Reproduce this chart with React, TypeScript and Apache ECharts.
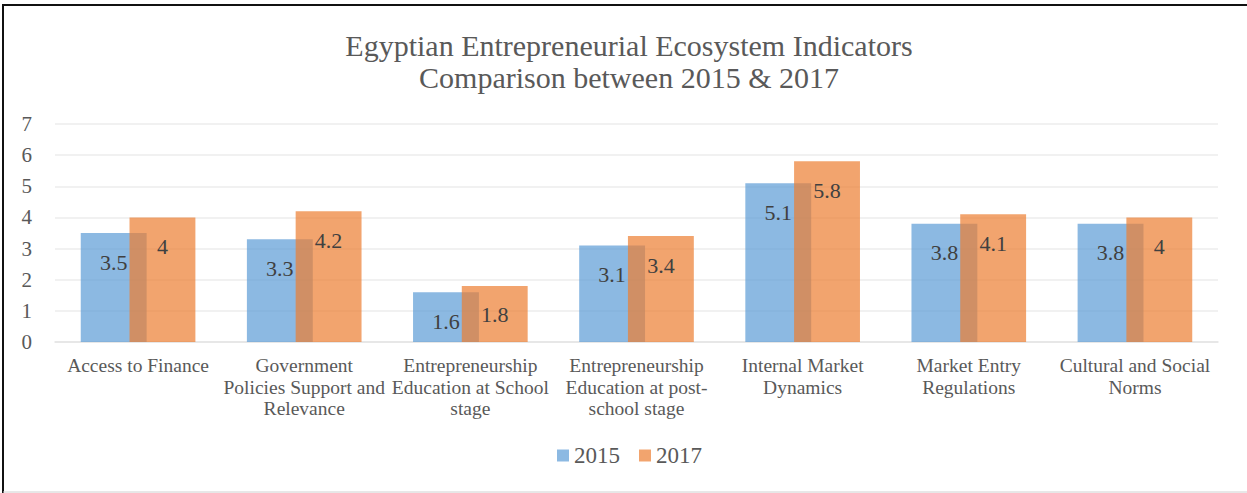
import React, { useEffect, useRef } from "react";
import * as echarts from "echarts";

const titleLines = ["Egyptian Entrepreneurial Ecosystem Indicators", "Comparison between 2015 & 2017"];
const categories = [
  "Access to Finance",
  "Government\nPolicies Support and\nRelevance",
  "Entrepreneurship\nEducation at School\nstage",
  "Entrepreneurship\nEducation at post-\nschool stage",
  "Internal Market\nDynamics",
  "Market Entry\nRegulations",
  "Cultural and Social\nNorms",
];
const seriesNames = ["2015", "2017"];
const values2015 = [3.5, 3.3, 1.6, 3.1, 5.1, 3.8, 3.8];
const values2017 = [4, 4.2, 1.8, 3.4, 5.8, 4.1, 4];
const yTicks = [0, 7, 1];

const FONT = "Liberation Serif";

export default function App() {
  const ref = useRef<HTMLDivElement>(null);
  useEffect(() => {
    if (!ref.current) return;
    const chart = echarts.init(ref.current, null, { renderer: "svg" });
    const label = {
      show: true,
      position: "insideTop",
      distance: 18,
      fontFamily: FONT,
      fontSize: 22,
      lineHeight: 22,
      color: "#404040",
    };
    chart.setOption({
      animation: false,
      backgroundColor: "#ffffff",
      textStyle: { fontFamily: FONT },
      title: {
        text: titleLines.join("\n"),
        left: 624,
        textAlign: "center",
        top: 24,
        textStyle: {
          fontFamily: FONT,
          fontSize: 30,
          fontWeight: "normal",
          color: "#595959",
          lineHeight: 32,
        },
      },
      legend: {
        data: seriesNames,
        left: 552,
        top: 439,
        itemWidth: 12,
        itemHeight: 12,
        itemGap: 19,
        icon: "rect",
        textStyle: { fontFamily: FONT, fontSize: 23, lineHeight: 23, color: "#595959" },
      },
      grid: { left: 55, right: 29, top: 124, bottom: 151, containLabel: false },
      xAxis: {
        type: "category",
        data: categories,
        axisLine: { lineStyle: { color: "#e3e3e3", width: 1.5 } },
        axisTick: { show: false },
        axisLabel: {
          interval: 0,
          margin: 13,
          fontFamily: FONT,
          fontSize: 19.5,
          lineHeight: 21.5,
          color: "#595959",
        },
      },
      yAxis: {
        type: "value",
        min: yTicks[0],
        max: yTicks[1],
        interval: yTicks[2],
        axisLine: { show: false },
        axisTick: { show: false },
        splitLine: { lineStyle: { color: "#ececec", width: 1.5 } },
        axisLabel: { margin: 23, fontFamily: FONT, fontSize: 21, lineHeight: 21, color: "#595959" },
      },
      series: [
        {
          name: seriesNames[0],
          type: "bar",
          data: values2015,
          barCategoryGap: "31%",
          barGap: "-26%",
          itemStyle: { color: "rgba(91,155,213,0.7)" },
          label,
        },
        {
          name: seriesNames[1],
          type: "bar",
          data: values2017,
          barCategoryGap: "31%",
          barGap: "-26%",
          itemStyle: { color: "rgba(237,125,49,0.7)" },
          label,
        },
      ],
      graphic: [
        { type: "line", shape: { x1: 3, y1: 5, x2: 1247, y2: 5 }, style: { stroke: "#111", lineWidth: 2 }, z: 100 },
        { type: "line", shape: { x1: 3, y1: 4, x2: 3, y2: 493 }, style: { stroke: "#111", lineWidth: 2 }, z: 100 },
        { type: "line", shape: { x1: 3, y1: 492, x2: 1247, y2: 492 }, style: { stroke: "#d0d0d0", lineWidth: 1 }, z: 100 },
      ],
    });
    return () => chart.dispose();
  }, []);
  return (
    <div
      ref={ref}
      style={{ position: "fixed", left: 0, top: 0, width: 1247, height: 493, background: "#fff" }}
    />
  );
}
